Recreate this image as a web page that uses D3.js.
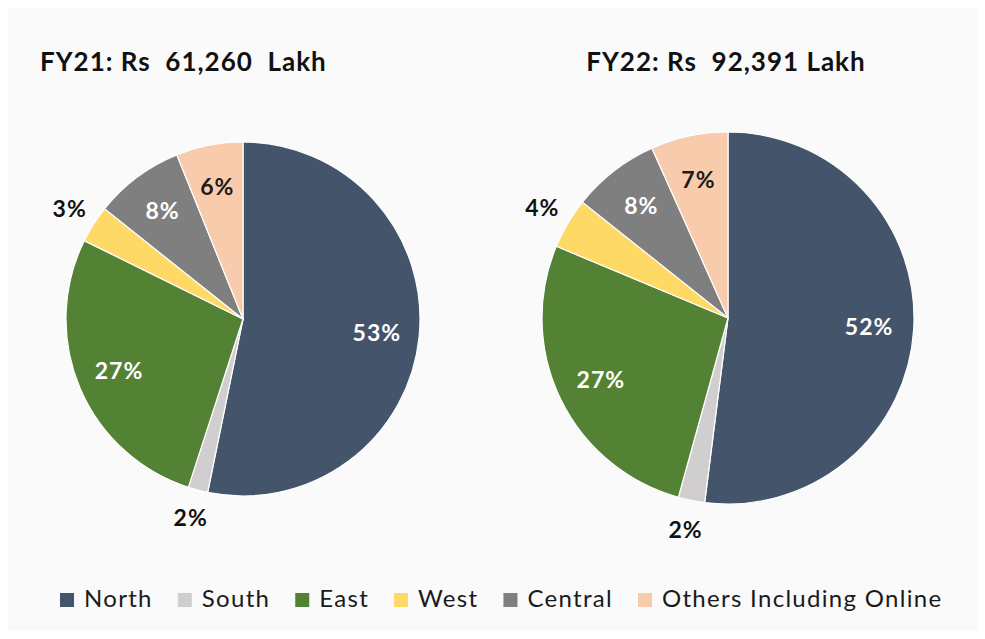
<!DOCTYPE html>
<html>
<head>
<meta charset="utf-8">
<script src="https://cdn.jsdelivr.net/npm/d3@7"></script>
<style>
  body { margin: 0; background: #fff; }
  svg { display: block; font-family: Lato, "Open Sans", sans-serif; }
</style>
</head>
<body>
<svg id="chart" width="985" height="639"></svg>
<script>
// regions, in legend order
var regions = ['North', 'South', 'East', 'West', 'Central', 'Others Including Online']
var colors = ['#44546a', '#d0cece', '#548235', '#ffd966', '#7f7f7f', '#f8cbad']

// share of sales, %
var fy21 = [53.2, 1.8, 27.3, 3.4, 8.2, 6.1]
var fy22 = [52.0, 2.3, 27.0, 4.4, 7.6, 6.7]

var titles = ['FY21: Rs\u00a0\u00a061,260\u00a0\u00a0Lakh', 'FY22: Rs\u00a0\u00a092,391 Lakh']

var svg = d3.select('#chart')
var width = 985, height = 639

svg.append('rect').attr('width', width).attr('height', height).attr('fill', '#fff')
svg.append('rect')
  .attr('x', 8).attr('y', 8)
  .attr('width', width - 16).attr('height', height - 16)
  .attr('fill', '#fafafa')

var color = d3.scaleOrdinal().domain(regions).range(colors)

// pies keep the original draw order: clockwise from 12 o'clock
var pie = d3.pie().sort(null).value(function(d) { return d.value })

function drawPie(values, cx, cy, r, title, titleX, anchor) {
  var g = svg.append('g').attr('transform', 'translate(' + cx + ',' + cy + ')')
  var data = pie(regions.map(function(name, i) { return { name: name, value: values[i] } }))
  var arc = d3.arc().innerRadius(0).outerRadius(r)
  var inLabel = d3.arc().innerRadius(r * 0.76).outerRadius(r * 0.76)
  var outLabel = d3.arc().innerRadius(r * 1.16).outerRadius(r * 1.16)

  g.selectAll('path.slice')
    .data(data)
    .join('path')
    .attr('class', 'slice')
    .attr('d', arc)
    .attr('fill', function(d) { return color(d.data.name) })
    .attr('stroke', '#fff')
    .attr('stroke-width', 1.2)

  g.selectAll('text.lbl')
    .data(data)
    .join('text')
    .attr('class', 'lbl')
    .attr('transform', function(d) {
      var p = d.data.value < 5 ? outLabel.centroid(d) : inLabel.centroid(d)
      return 'translate(' + p + ')'
    })
    .attr('text-anchor', 'middle')
    .attr('dy', '0.35em')
    .attr('font-size', 23)
    .attr('font-weight', 700)
    .attr('letter-spacing', 1)
    .attr('fill', function(d) {
      if (d.data.value < 5) return '#111'
      return d.data.name === 'Others Including Online' ? '#1a1a1a' : '#fff'
    })
    .text(function(d) { return Math.round(d.data.value) + '%' })

  svg.append('text')
    .attr('x', titleX).attr('y', 71)
    .attr('text-anchor', anchor)
    .attr('font-size', 26)
    .attr('font-weight', 700)
    .attr('letter-spacing', 1)
    .attr('fill', '#111')
    .text(title)
}

drawPie(fy21, 243, 319, 177, titles[0], 40, 'start')
drawPie(fy22, 728, 318, 186, titles[1], 726, 'middle')

// legend
var legend = svg.append('g').attr('transform', 'translate(60,0)')
var lx = 0
regions.forEach(function(name) {
  var item = legend.append('g').attr('transform', 'translate(' + lx + ',0)')
  item.append('rect')
    .attr('x', 0).attr('y', 593)
    .attr('width', 14).attr('height', 14)
    .attr('fill', color(name))
  var t = item.append('text')
    .attr('x', 24).attr('y', 607)
    .attr('font-size', 24)
    .attr('letter-spacing', 1.3)
    .attr('fill', '#1a1a1a')
    .text(name)
  lx += 24 + t.node().getComputedTextLength() + 25
})
</script>
</body>
</html>
